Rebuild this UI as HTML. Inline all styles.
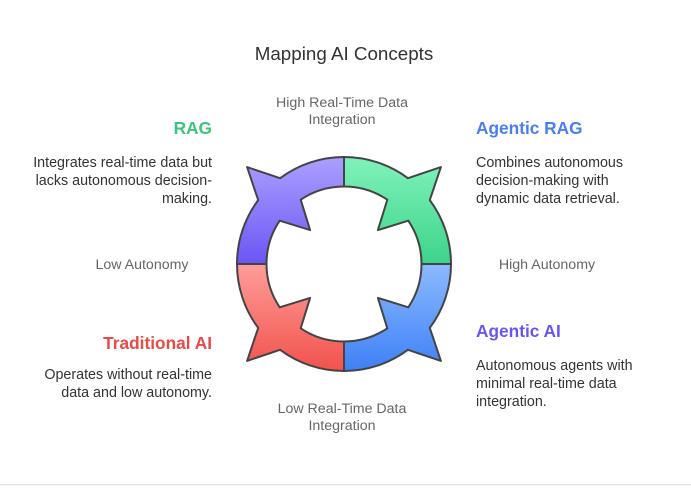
<!DOCTYPE html>
<html><head><meta charset="utf-8"><style>
html,body{margin:0;padding:0;background:#fff;}
svg{display:block;font-family:"Liberation Sans",sans-serif;}
</style></head><body>
<svg width="691" height="488" viewBox="0 0 691 488">
<defs>
<linearGradient id="gp" x1="0" y1="0" x2="0" y2="1"><stop offset="0" stop-color="#ab9fff"/><stop offset="1" stop-color="#6b56f5"/></linearGradient>
<linearGradient id="gg" x1="0" y1="0" x2="0" y2="1"><stop offset="0" stop-color="#80f2bb"/><stop offset="1" stop-color="#3dd48a"/></linearGradient>
<linearGradient id="gr" x1="0" y1="1" x2="0" y2="0"><stop offset="0" stop-color="#ff9d98"/><stop offset="1" stop-color="#f2524d"/></linearGradient>
<linearGradient id="gb" x1="0" y1="1" x2="0" y2="0"><stop offset="0" stop-color="#8cbaff"/><stop offset="1" stop-color="#3e80f6"/></linearGradient>
<path id="q" d="M-107,0 A107,107 0 0 1 -85.8,-63.9 L-96.9,-96.9 L-63.9,-85.8 A107,107 0 0 1 0,-107 L0,-77.5 A77.5,77.5 0 0 0 -43.3,-64.3 L-33.9,-33.9 L-64.3,-43.3 A77.5,77.5 0 0 0 -77.5,0 Z"/>
</defs>
<rect x="0" y="484" width="691" height="1.5" fill="#e6e6e6"/>
<g transform="translate(344,264)" stroke="#444" stroke-width="2" stroke-linejoin="round">
<use href="#q" fill="url(#gp)"/>
<use href="#q" fill="url(#gg)" transform="scale(-1,1)"/>
<use href="#q" fill="url(#gr)" transform="scale(1,-1)"/>
<use href="#q" fill="url(#gb)" transform="scale(-1,-1)"/>
</g>
<text x="344" y="60" font-size="18.8" fill="#333" text-anchor="middle">Mapping AI Concepts</text>
<g font-size="14.2" fill="#666" text-anchor="middle">
<text x="342" y="107">High Real-Time Data</text>
<text x="342" y="124">Integration</text>
<text x="342" y="413">Low Real-Time Data</text>
<text x="342" y="430">Integration</text>
<text x="142" y="269">Low Autonomy</text>
<text x="547" y="269">High Autonomy</text>
</g>
<g font-size="17.3" font-weight="bold">
<text x="212" y="134" fill="#3cc47a" text-anchor="end">RAG</text>
<text x="476" y="134" fill="#4a7df2">Agentic RAG</text>
<text x="212" y="349" fill="#e84a45" text-anchor="end">Traditional AI</text>
<text x="476" y="337" fill="#6a55f0">Agentic AI</text>
</g>
<g font-size="14.3" fill="#333">
<g text-anchor="end">
<text x="212" y="167">Integrates real-time data but</text>
<text x="212" y="185">lacks autonomous decision-</text>
<text x="212" y="203">making.</text>
<text x="212" y="379">Operates without real-time</text>
<text x="212" y="397">data and low autonomy.</text>
</g>
<text x="476" y="167">Combines autonomous</text>
<text x="476" y="185">decision-making with</text>
<text x="476" y="203">dynamic data retrieval.</text>
<text x="476" y="370">Autonomous agents with</text>
<text x="476" y="388">minimal real-time data</text>
<text x="476" y="406">integration.</text>
</g>
</svg>
</body></html>
